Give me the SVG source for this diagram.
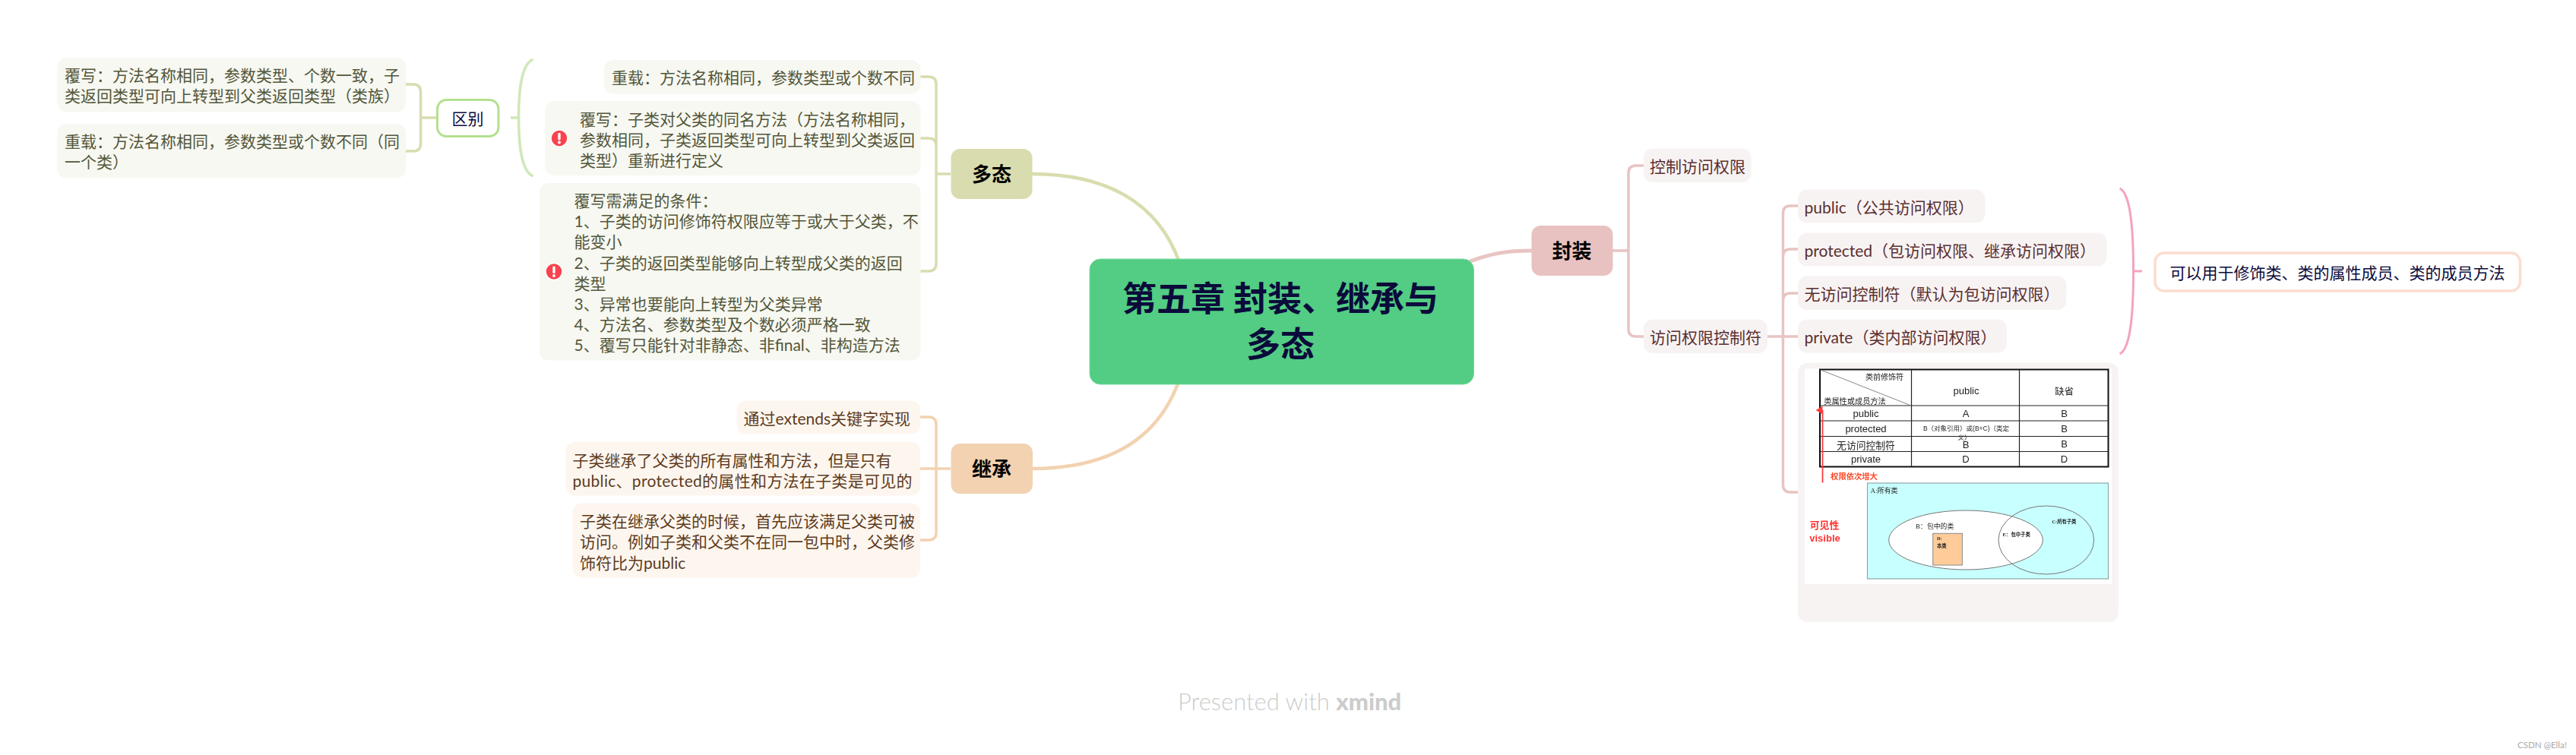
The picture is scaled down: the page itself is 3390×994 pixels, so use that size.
<svg xmlns="http://www.w3.org/2000/svg" width="3390" height="994" viewBox="0 0 3390 994">
<style>
text{font-family:"Lato","Noto Sans CJK SC",sans-serif;dominant-baseline:central}
.t{font-size:21px}
.g{fill:#53563a}.o{fill:#5e3c1e}.r{fill:#5a2f2f}.n{fill:#0b0b3b}
.bg{fill:#f7f8f1}.bo{fill:#fdf6ef}.br{fill:#f8f3f3}
.mid{text-anchor:middle}
.b{font-size:26px;font-weight:700;fill:#000;text-anchor:middle}
.c{fill:none;stroke-width:3.5;stroke-linejoin:round;stroke-linecap:butt}
.cg{stroke:#d9dcae}.cl{stroke:#cfe8b8}.co{stroke:#f2d2b0}.cr{stroke:#e8c4c3}.cp{stroke:#f5a3bd}
.m{font-family:"Liberation Sans","Noto Sans CJK SC",sans-serif;fill:#222;text-anchor:middle;font-size:13px}
.s{font-family:"Liberation Serif","Noto Sans CJK SC",serif;fill:#222}
.l{fill:none;stroke:#222;stroke-width:1.2}
</style>
<defs>
<filter id="soft" x="-2%" y="-2%" width="104%" height="104%"><feGaussianBlur stdDeviation="0.4"/></filter>
<g id="warn"><circle r="11" fill="#f8434e" stroke="#fff" stroke-width="1.5"/><rect x="-1.7" y="-7" width="3.4" height="9.500" rx="1.4" fill="#fff"/><circle cy="5.500" r="1.900" fill="#fff"/></g>
<marker id="up" markerWidth="6" markerHeight="6" refX="3" refY="5" orient="auto-start-reverse"><path d="M0 5L3 0L6 5Z" fill="#ff3b3b"/></marker>
</defs>
<rect width="3390" height="994" fill="#fff"/>
<g id="connectors">
<path class="c cg" style="stroke-width:4.5" d="M1358 229C1450 229 1522 262 1552 345"/>
<path class="c co" style="stroke-width:4.5" d="M1358 617C1450 617 1522 585 1552 500"/>
<path class="c cr" style="stroke-width:5" d="M1925 348C1960 333 1985 330 2016 330"/>
<path class="c cg" d="M1251 229H1232M1211 101H1222Q1232 101 1232 111V347Q1232 357 1222 357H1211M1211 182H1222Q1232 182 1232 192"/>
<path class="c cg" d="M574 155H553.6M534 111H544Q553.6 111 553.6 121V189Q553.6 199 544 199H534"/>
<path class="c cl" d="M672 155H682.6M701.5 78C688 84 682.6 110 682.6 155C682.6 200 688 226 701.5 232"/>
<path class="c co" d="M1251 617H1211M1211 549H1222Q1232 549 1232 559V701Q1232 711 1222 711H1211"/>
<path class="c cr" d="M2122 330H2143M2163 218H2153Q2143 218 2143 228V433Q2143 443 2153 443H2163"/>
<path class="c cr" d="M2326 443H2366M2366 271H2356Q2346.4 271 2346.4 281V638Q2346.4 648 2356 648H2366M2366 328H2356Q2346.4 328 2346.4 338M2366 386H2356Q2346.4 386 2346.4 396"/>
<path class="c cp" style="stroke-width:3" d="M2789.6 248C2802 254 2807.5 290 2807.5 357C2807.5 424 2802 460 2789.6 466M2807.5 357H2819"/>
</g>
<g id="center"><rect x="1434" y="341" width="505.500" height="165" rx="14" fill="#52cd83" stroke="#7bdba1" stroke-width="1"/><text class="mid n" font-size="45" font-weight="700" x="1685" y="393">第五章 封装、继承与</text><text class="mid n" font-size="45" font-weight="700" x="1685" y="453">多态</text></g>
<g id="duotai"><rect x="1251.500" y="196" width="107" height="66" rx="12" fill="#d9dcae"/><text class="b" x="1305" y="229">多态</text></g>
<g id="jicheng"><rect x="1251.500" y="584" width="107.500" height="66" rx="12" fill="#f2d2b0"/><text class="b" x="1305" y="617">继承</text></g>
<g id="fengzhuang"><rect x="2015.500" y="297" width="107" height="66" rx="12" fill="#e8c2c1"/><text class="b" x="2068.500" y="330">封装</text></g>
<g id="qubie"><rect x="575.500" y="131.500" width="80.500" height="48" rx="12" fill="#fff" stroke="#b4e08f" stroke-width="3"/><text class="t n mid" x="615.500" y="155.500">区别</text></g>
<g id="override-detail"><rect class="bg" x="75.500" y="76" width="458.500" height="71.500" rx="12"/><text class="t g" x="85" y="98.500">覆写：方法名称相同，参数类型、个数一致，子</text><text class="t g" x="85" y="125.500">类返回类型可向上转型到父类返回类型（类族）</text></g>
<g id="overload-detail"><rect class="bg" x="75.500" y="163" width="458.500" height="71.500" rx="12"/><text class="t g" x="85" y="185.500">重载：方法名称相同，参数类型或个数不同（同</text><text class="t g" x="85" y="212.500">一个类）</text></g>
<g id="overload"><rect class="bg" x="795" y="79" width="416.500" height="44.500" rx="12"/><text class="t g" x="805" y="101.500">重载：方法名称相同，参数类型或个数不同</text></g>
<g id="override"><rect class="bg" x="717.500" y="133" width="494" height="98" rx="12"/><use href="#warn" x="736" y="182"/><text class="t g" x="763" y="156">覆写：子类对父类的同名方法（方法名称相同，</text><text class="t g" x="763" y="183">参数相同，子类返回类型可向上转型到父类返回</text><text class="t g" x="763" y="210">类型）重新进行定义</text></g>
<g id="override-rules"><rect class="bg" x="710" y="241" width="501.500" height="233.500" rx="12"/><use href="#warn" x="729" y="357.500"/><text class="t g" x="755.500" y="263.500">覆写需满足的条件：</text><text class="t g" x="755.500" y="290.500">1、子类的访问修饰符权限应等于或大于父类，不</text><text class="t g" x="755.500" y="317.500">能变小</text><text class="t g" x="755.500" y="345">2、子类的返回类型能够向上转型成父类的返回</text><text class="t g" x="755.500" y="372">类型</text><text class="t g" x="755.500" y="399">3、异常也要能向上转型为父类异常</text><text class="t g" x="755.500" y="426">4、方法名、参数类型及个数必须严格一致</text><text class="t g" x="755.500" y="453">5、覆写只能针对非静态、非final、非构造方法</text></g>
<g id="extends"><rect class="bo" x="969.500" y="527.500" width="241.500" height="44" rx="12"/><text class="t o" x="978.500" y="550.500">通过extends关键字实现</text></g>
<g id="inherit-all"><rect class="bo" x="744.500" y="581.500" width="466.500" height="71" rx="12"/><text class="t o" x="753.500" y="605">子类继承了父类的所有属性和方法，但是只有</text><text class="t o" x="753.500" y="632" textLength="447">public、protected的属性和方法在子类是可见的</text></g>
<g id="inherit-access"><rect class="bo" x="753.500" y="662.500" width="457.500" height="98" rx="12"/><text class="t o" x="763" y="685.500">子类在继承父类的时候，首先应该满足父类可被</text><text class="t o" x="763" y="712.500">访问。例如子类和父类不在同一包中时，父类修</text><text class="t o" x="763" y="740">饰符比为public</text></g>
<g id="control"><rect class="br" x="2163" y="195.500" width="141.500" height="44.500" rx="12"/><text class="t r" x="2171" y="218">控制访问权限</text></g>
<g id="modifier"><rect class="br" x="2163" y="420.500" width="163" height="44.500" rx="12"/><text class="t r" x="2171" y="443">访问权限控制符</text></g>
<g id="public"><rect class="br" x="2366" y="249.500" width="246.500" height="44" rx="12"/><text class="t r" x="2374.500" y="272.500">public（公共访问权限）</text></g>
<g id="protected"><rect class="br" x="2366" y="306.500" width="406.500" height="44" rx="12"/><text class="t r" x="2374.500" y="329.500">protected（包访问权限、继承访问权限）</text></g>
<g id="default"><rect class="br" x="2366" y="363.500" width="353.500" height="44.500" rx="12"/><text class="t r" x="2374.500" y="386.500">无访问控制符（默认为包访问权限）</text></g>
<g id="private"><rect class="br" x="2366" y="420.500" width="275" height="44" rx="12"/><text class="t r" x="2374.500" y="443.500">private（类内部访问权限）</text></g>
<g id="summary"><rect x="2836" y="333" width="480.500" height="50" rx="12" fill="#fff" stroke="#fddccf" stroke-width="3.500"/><text class="t n mid" x="3076" y="358.500">可以用于修饰类、类的属性成员、类的成员方法</text></g>
<g id="picture-node">
<rect class="br" x="2366" y="477.500" width="422" height="341.500" rx="13"/>
<rect x="2375" y="485.500" width="404" height="283.500" fill="#fff"/>
<g filter="url(#soft)">
<rect x="2395" y="486.500" width="379.500" height="128" fill="#fff" stroke="#111" stroke-width="2"/>
<path class="l" d="M2515.500 486.500V614.500M2657.500 486.500V614.500M2395 534H2774.500M2395 554H2774.500M2395 574.500H2774.500M2395 594.500H2774.500"/>
<path d="M2396 487L2515 534" stroke="#888" fill="none"/>
<text class="m" style="font-size:10px" x="2480" y="496">类前修饰符</text>
<text class="m" style="font-size:10.200px" x="2441" y="528.500">类属性或成员方法</text>
<text class="m" x="2587.500" y="514.500">public</text><text class="m" style="font-size:12.500px" x="2716.500" y="516">缺省</text>
<text class="m" x="2455.500" y="544.500">public</text><text class="m" x="2587" y="544.500">A</text><text class="m" x="2716.500" y="544.500">B</text>
<text class="m" x="2455.500" y="564.500">protected</text><text class="m" style="font-size:8.500px" x="2587.500" y="563.500">B（对象引用）或(B+C)（类定</text><text class="m" style="font-size:8.500px" x="2585" y="576">义）</text><text class="m" x="2716.500" y="564.500">B</text>
<text class="m" style="font-size:12.800px" x="2455.500" y="586">无访问控制符</text><text class="m" x="2587" y="585">B</text><text class="m" x="2716.500" y="584.500">B</text>
<text class="m" x="2455.500" y="604.500">private</text><text class="m" x="2587" y="604.500">D</text><text class="m" x="2716.500" y="604.500">D</text>
<path d="M2398.500 635.500V540" stroke="#ff3b3b" stroke-width="1.800" fill="none" marker-end="url(#up)"/>
<text class="m" style="font-size:10.300px;font-weight:700;fill:#ff4a2a" x="2440" y="627.500">权限依次增大</text>
<rect x="2457.500" y="636" width="317" height="126" fill="#c8ffff" stroke="#8fa8a8" stroke-width="1.200"/>
<ellipse cx="2587" cy="711" rx="101.300" ry="39" fill="#fff" stroke="#777" stroke-width="1"/>
<ellipse cx="2692.800" cy="711" rx="62.800" ry="45" fill="none" stroke="#777" stroke-width="1"/>
<rect x="2543.700" y="702.300" width="38.600" height="41.700" fill="#fc9" stroke="#888" stroke-width="1"/>
<text class="s" font-size="9" x="2461.500" y="645.500">A:所有类</text>
<text class="s" font-size="8.800" x="2521" y="692.500">B：</text><text class="s" font-size="8.800" x="2536" y="692.500">包中的类</text>
<text class="s" font-size="6.300" font-weight="700" x="2549" y="708.500">D:</text><text class="s" font-size="6.300" font-weight="700" x="2549" y="718">本类</text>
<text class="s" font-size="6.300" font-weight="700" x="2635.500" y="703.500">E：</text><text class="s" font-size="6.300" font-weight="700" x="2646.500" y="703.500">包中子类</text>
<text class="s" font-size="6.300" font-weight="700" x="2700.500" y="686">C:所有子类</text>
<text class="m" style="font-size:12.800px;font-weight:700;fill:#f33" x="2401" y="691.500">可见性</text>
<text class="m" style="font-size:13px;font-weight:700;fill:#f33" x="2401.500" y="708.500">visible</text>
</g>
</g>
<g id="footer">
<text x="1550" y="923" font-size="31" font-weight="300" fill="#ccc">Presented with <tspan font-weight="900">xmind</tspan></text>
<text x="3313" y="980" font-size="11.500" fill="#aaa">CSDN @Ella!</text>
</g>
</svg>
